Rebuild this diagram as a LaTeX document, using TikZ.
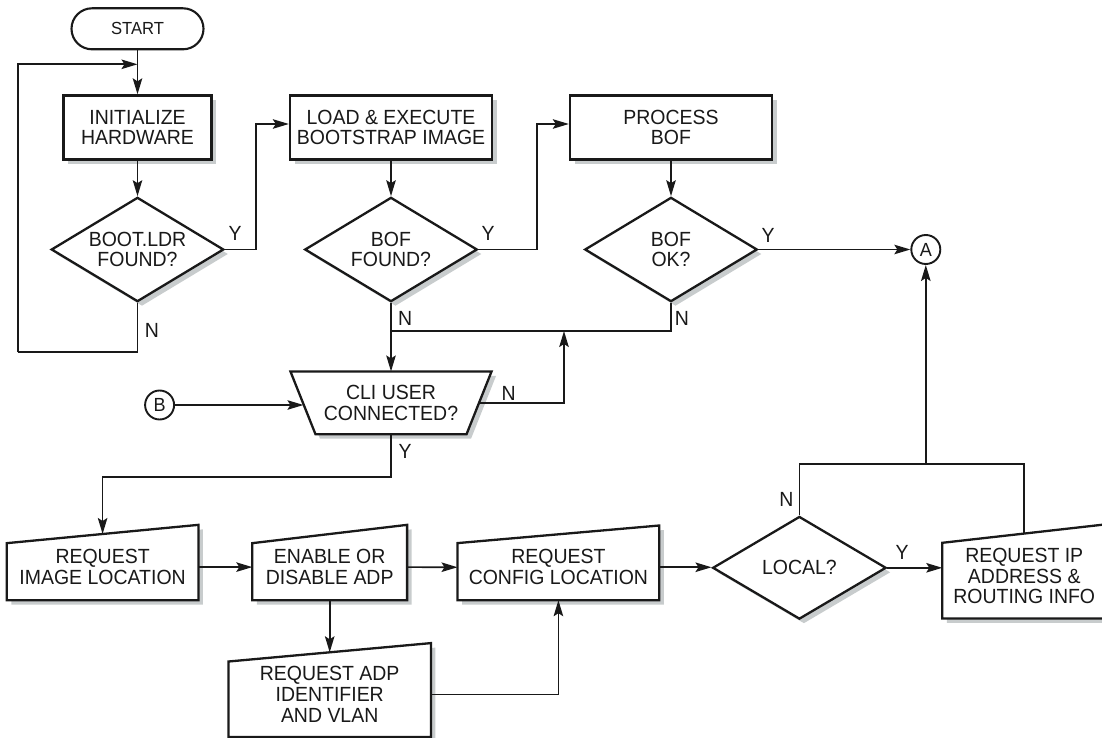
\documentclass[tikz,border=0pt]{standalone}
\usepackage{fontspec}
\setmainfont{Liberation Sans}[FakeStretch=0.95]
\usetikzlibrary{shapes.geometric,arrows.meta,calc,shadows}
\pgfdeclarelayer{bg}
\pgfsetlayers{bg,main}
\definecolor{shadowc}{RGB}{200,204,205}
\definecolor{ink}{RGB}{25,25,25}
\begin{document}
\begin{tikzpicture}[x=1pt,y=-1pt,
  every node/.style={font=\fontsize{20.5}{20.8}\selectfont, align=center, inner sep=0pt, text=ink},
  boxline/.style={line width=2.3pt, draw=ink, fill=white, line join=miter},
  shadowfill/.style={fill=shadowc},
  myshadow/.style={drop shadow={shadow xshift=4.5pt, shadow yshift=-4.5pt, fill=shadowc, opacity=1}},
  rectbox/.style={rectangle, boxline, myshadow},
  decbox/.style={diamond, boxline, myshadow, aspect=1.65, minimum width=172.5pt, minimum height=104.3pt},
  plainbox/.style={rectangle, draw=none},
  termbox/.style={rectangle, rounded corners=20.5pt, line width=2.1pt, draw=ink, fill=white, minimum width=132pt, minimum height=41pt, font=\fontsize{17.5}{17.5}\selectfont},
  conn/.style={circle, line width=1.9pt, draw=ink, minimum size=29pt, font=\fontsize{19}{19}\selectfont},
  lbl/.style={font=\fontsize{20.5}{21}\selectfont},
  link/.style={line width=1.7pt, draw=ink},
  arr/.style={link, -{Stealth[length=16pt, width=9.5pt, inset=3pt]}}
]
\useasboundingbox (0,0) rectangle (1102,738);

% ---- nodes ----
\node[termbox] (start) at (137.5,28.8) {START};
\node[rectbox, minimum width=148pt, minimum height=64pt] (init) at (137.5,127.5) {INITIALIZE\\HARDWARE};
\node[decbox] (boot) at (137.5,249.5) {BOOT.LDR\\FOUND?};
\node[rectbox, minimum width=202pt, minimum height=64pt] (load) at (391,127.5) {LOAD \& EXECUTE\\BOOTSTRAP IMAGE};
\node[decbox] (bof) at (391,249.5) {BOF\\FOUND?};
\node[rectbox, minimum width=202pt, minimum height=64pt] (proc) at (671,127.5) {PROCESS\\BOF};
\node[decbox] (bofok) at (671,249.5) {BOF\\OK?};
\node[conn] (A) at (925.8,249.5) {A};
\node[conn] (B) at (159.6,405) {B};

\node[plainbox, minimum width=200.7pt, minimum height=62.3pt] (cli) at (391,402.8) {CLI USER\\CONNECTED?};

\node[plainbox, minimum width=191.2pt, minimum height=65.8pt] (img) at (102.6,567.1) {REQUEST\\IMAGE LOCATION};
\node[plainbox, minimum width=154.4pt, minimum height=65.8pt] (en) at (329.7,567.1) {ENABLE OR\\DISABLE ADP};
\node[plainbox, minimum width=201.4pt, minimum height=65.5pt] (cfg) at (558.4,567.25) {REQUEST\\CONFIG LOCATION};
\node[plainbox, minimum width=202pt, minimum height=84.2pt] (adp) at (329.7,694.6) {REQUEST ADP\\IDENTIFIER\\AND VLAN};
\node[decbox, minimum width=173.5pt, minimum height=102.7pt] (local) at (799.4,567.8) {LOCAL?};
\node[plainbox, minimum width=163.5pt, minimum height=84.5pt] (ip) at (1024.25,576) {REQUEST IP\\ADDRESS \&\\ROUTING INFO};

% ---- custom outlines on background ----
\begin{pgfonlayer}{bg}
  \fill[shadowfill] ([shift={(4.5,4.5)}]cli.north west) -- ([shift={(4.5,4.5)}]cli.north east)
     -- ([shift={(-20.5,4.5)}]cli.south east) -- ([shift={(29.5,4.5)}]cli.south west) -- cycle;
  \draw[boxline] (cli.north west) -- (cli.north east) -- ([xshift=-25pt]cli.south east)
     -- ([xshift=25pt]cli.south west) -- cycle;
  \foreach \n/\s in {img/9.15, en/9.15, cfg/8.8, adp/9.2, ip/9.25} {
    \fill[shadowfill] ([shift={(4.5,4.5)}]\n.south west) -- ([shift={(4.5,4.5)}]\n.south east)
       -- ([shift={(4.5,4.5-\s)}]\n.north east) -- ([shift={(4.5,4.5+\s)}]\n.north west) -- cycle;
    \draw[boxline] (\n.south west) -- (\n.south east) -- ([yshift=\s pt]\n.north east)
       -- ([yshift=-\s pt]\n.north west) -- cycle;
  }
\end{pgfonlayer}

% ---- coordinates ----
\coordinate (jA) at (137.5,64.3);
\coordinate (loopL) at (18.2,352.3);
\coordinate (bend1) at (256,124);
\coordinate (bend2) at (536.7,124);
\coordinate (j2) at (391,331);
\coordinate (j3) at (564,331);
\coordinate (cliW) at ([xshift=13pt]cli.west);
\coordinate (cliE) at ([xshift=-12.5pt]cli.east);
\coordinate (jT) at (1024.25,464.3);
\coordinate (jAup) at (925.8,464.3);

% ---- connectors ----
\draw[arr] (start.south) -- (init.north);
\draw[arr] (loopL) |- (jA);
\draw[link] (boot.south) |- (loopL);
\draw[arr] (init.south) -- (boot.north);
\draw[arr] (boot.east) -| (bend1) -- (bend1 -| load.west);
\draw[arr] (load.south) -- (bof.north);
\draw[arr] (bof.east) -| (bend2) -- (bend2 -| proc.west);
\draw[arr] (proc.south) -- (bofok.north);
\draw[arr] (bofok.east) -- (A.west);
\draw[link] (bofok.south) |- (j2);
\draw[arr] (bof.south) -- (cli.north);
\draw[arr] (cliE) -| (j3);
\draw[arr] (B.east) -- (B.east -| cliW);
\draw[arr] (cli.south) -- ++(0,42.7) -| (img.north);
\draw[arr] (img.east) -- (en.west);
\draw[arr] (en.east) -- (cfg.west);
\draw[arr] (en.south) -- (adp.north);
\draw[arr] (adp.east) -| (cfg.south);
\draw[arr] (cfg.east) -- (cfg.east -| local.west);
\draw[arr] (local.east) -- (local.east -| ip.west);
\draw[link] (local.north) |- (jT) -- ([yshift=-0.5pt]ip.north);
\draw[arr] (jAup) -- (A.south);

% ---- labels ----
\node[lbl] (y1) at (235,233) {Y};
\node[lbl] (y2) at (488.2,233) {Y};
\node[lbl] (y3) at (768.2,235) {Y};
\node[lbl] (n1) at (151.9,330) {N};
\node[lbl] (n2) at (405.1,318.3) {N};
\node[lbl] (n3) at (682,318.3) {N};
\node[lbl] (n4) at (508.6,393.3) {N};
\node[lbl] (y4) at (405.1,451.7) {Y};
\node[lbl] (n5) at (786.5,499.3) {N};
\node[lbl] (y5) at (902,552.7) {Y};
\end{tikzpicture}
\end{document}
